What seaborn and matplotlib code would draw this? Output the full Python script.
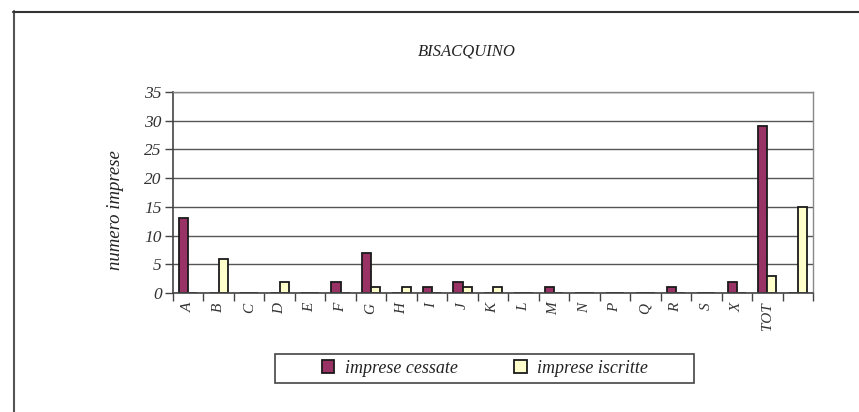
import matplotlib
matplotlib.use("Agg")
from matplotlib import pyplot as plt
from matplotlib.lines import Line2D
from matplotlib.patches import Patch, Rectangle
import seaborn as sns
import pandas as pd
import numpy as np


CATEGORIES = ["A", "B", "C", "D", "E", "F", "G", "H", "I", "J", "K", "L",
              "M", "N", "P", "Q", "R", "S", "X", "TOT", ""]
CESSATE = [13, 0, 0, 0, 0, 2, 7, 0, 1, 2, 0, 0, 1, 0, 0, 0, 1, 0, 2, 29, 0]
ISCRITTE = [0, 6, 0, 2, 0, 0, 1, 1, 0, 1, 1, 0, 0, 0, 0, 0, 0, 0, 0, 3, 15]
SERIES = ["imprese cessate", "imprese iscritte"]
COLORS = {"imprese cessate": "#993366", "imprese iscritte": "#FFFFCC"}


if __name__ == "__main__":
    sns.set_style("white")
    plt.rcParams["font.family"] = ["Liberation Serif", "DejaVu Serif"]
    plt.rcParams["font.style"] = "italic"

    df = pd.DataFrame({
        "categoria": CATEGORIES * 2,
        "valore": CESSATE + ISCRITTE,
        "serie": [SERIES[0]] * len(CATEGORIES) + [SERIES[1]] * len(CATEGORIES),
    })

    W, H = 859, 412
    fig = plt.figure(figsize=(W / 100, H / 100), dpi=100)
    ax = fig.add_axes([173 / W, 1 - 293 / H, (813 - 173) / W, (293 - 92) / H])

    sns.barplot(
        data=df,
        x="categoria",
        y="valore",
        hue="serie",
        palette=COLORS,
        order=CATEGORIES,
        hue_order=SERIES,
        width=0.6,
        edgecolor="#1a1a1a",
        linewidth=1.3,
        saturation=1,
        legend=False,
        ax=ax,
    )

    ax.set_xlim(-0.5, len(CATEGORIES) - 0.5)
    ax.set_ylim(0, 35)
    ax.set_yticks(np.arange(0, 36, 5))
    ax.yaxis.grid(True, color="#555555", linewidth=1.0)
    ax.set_axisbelow(True)

    # category labels at centres, tick marks at boundaries
    ax.set_xticks(range(len(CATEGORIES)))
    ax.set_xticklabels(CATEGORIES, rotation=90, fontsize=11, color="#333333")
    ax.tick_params(axis="x", which="major", length=0, pad=7)
    ax.set_xticks(np.arange(-0.5, len(CATEGORIES), 1), minor=True)
    ax.tick_params(axis="x", which="minor", length=6, width=1, color="#444444",
                   direction="out", bottom=True)
    ax.tick_params(axis="y", length=6, width=1, color="#444444", direction="out",
                   labelsize=12.5, labelcolor="#333333", pad=2, left=True)

    for side in ["top", "right"]:
        ax.spines[side].set_color("#888888")
        ax.spines[side].set_linewidth(1.0)
    for side in ["left", "bottom"]:
        ax.spines[side].set_color("#444444")
        ax.spines[side].set_linewidth(1.2)

    ax.set_xlabel("")
    ax.set_ylabel("")
    fig.text(115 / W, 1 - 210 / H, "numero imprese", rotation=90, ha="center",
             va="center", fontsize=13.5, color="#222222")

    fig.text(467 / W, 1 - 51 / H, "BISACQUINO", ha="center", va="center",
             fontsize=12, color="#222222")

    # outer frame (left and top edges visible)
    fig.add_artist(Line2D([13.5 / W, 13.5 / W], [1 - 11 / H, 0],
                          transform=fig.transFigure, color="#555555", linewidth=1.5))
    fig.add_artist(Line2D([13 / W, 1], [1 - 11.5 / H, 1 - 11.5 / H],
                          transform=fig.transFigure, color="#333333", linewidth=1.5))

    # legend box drawn separately (wide Excel-style padding)
    fig.add_artist(Rectangle((275 / W, 1 - 383 / H), (694 - 275) / W, (383 - 354) / H,
                             transform=fig.transFigure, facecolor="white",
                             edgecolor="#444444", linewidth=1.2))
    handles = [Patch(facecolor=COLORS[s], edgecolor="#1a1a1a", linewidth=1.3, label=s)
               for s in SERIES]
    leg = fig.legend(
        handles=handles,
        loc="center",
        bbox_to_anchor=(485 / W, 1 - 368.5 / H),
        ncol=2,
        frameon=False,
        fontsize=13,
        handlelength=0.7,
        handleheight=0.7,
        handletextpad=0.6,
        columnspacing=3.1,
    )
    for t in leg.get_texts():
        t.set_color("#222222")

    plt.savefig("out.png", dpi=100)
    plt.close()
